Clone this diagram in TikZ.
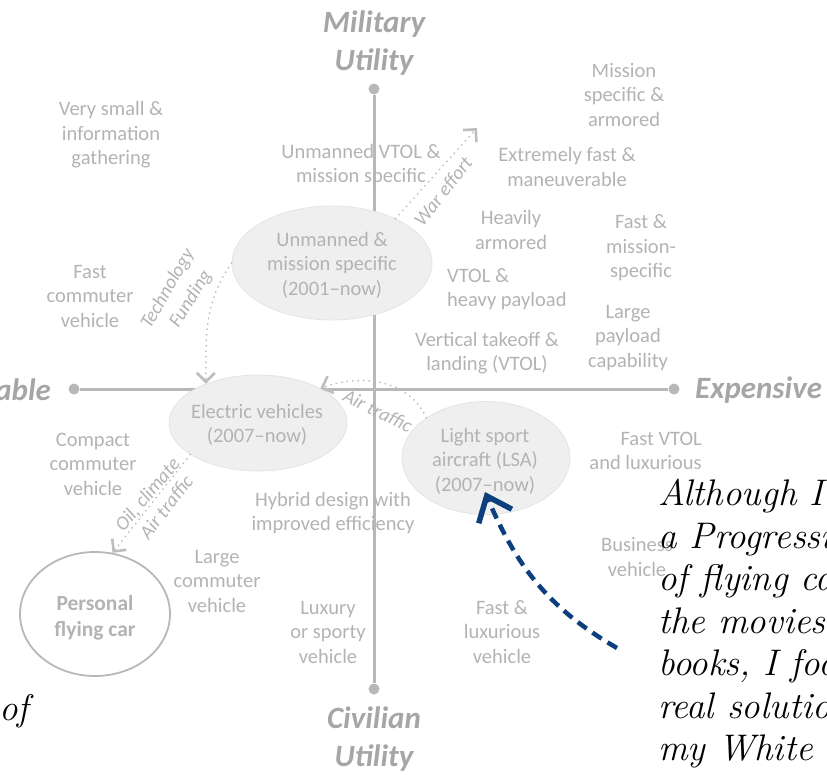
\documentclass[tikz,border=0pt]{standalone}
\usepackage{fontspec}
\newfontfamily\carlito{Carlito}
\usepackage{xcolor}
\usetikzlibrary{arrows.meta,shapes.geometric}
\definecolor{txtgray}{HTML}{B3B3B3}
\definecolor{headgray}{HTML}{A6A6A6}
\definecolor{axgray}{HTML}{B8B8B8}
\definecolor{dotgray}{HTML}{BDBDBD}
\definecolor{ellfill}{HTML}{EFEFEF}
\definecolor{elldraw}{HTML}{E4E4E4}
\definecolor{noteblue}{HTML}{0D3F7E}

\begin{document}
\begin{tikzpicture}[x=1pt,y=1pt,
  lbl/.style={font=\carlito\fontsize{20.5}{24.5}\selectfont, text=txtgray, align=center, inner sep=0pt},
  head/.style={font=\carlito\bfseries\itshape\fontsize{31}{38}\selectfont, text=headgray, align=center, inner sep=0pt},
  tag/.style={font=\carlito\itshape\fontsize{19.5}{21}\selectfont, text=txtgray, inner sep=0pt},
  ell/.style={ellipse, fill=ellfill, draw=elldraw, line width=0.8pt, inner sep=0pt},
  dotend/.style={circle, fill=axgray, minimum size=11pt, inner sep=0pt},
  axis/.style={draw=axgray, line width=3pt},
  flow/.style={draw=dotgray, line width=2pt, line cap=round, dash pattern=on 0pt off 5.5pt,
    -{Straight Barb[length=9pt,width=18pt,line width=2.6pt]}},
  hand/.style={font=\itshape\fontsize{37}{42.5}\selectfont, align=left, inner sep=0pt},
  noteline/.style={draw=noteblue, line width=4.5pt, dash pattern=on 11pt off 7pt,
    -{Straight Barb[length=22pt,width=36pt,line width=5.5pt]}}]
\useasboundingbox (0,0) rectangle (827,-774);
\clip (0,0) rectangle (827,-774);

\node[dotend] (mdot) at (374,-89) {};
\node[dotend] (cdot) at (374,-689) {};
\node[dotend] (adot) at (74,-389) {};
\node[dotend] (edot) at (674,-389) {};
\draw[axis] (mdot) -- (cdot);
\draw[axis] (adot) -- (edot);

\node[head] (mil) at (374,-43) {Military\\Utility};
\node[head] (civ) at (374,-739) {Civilian\\Utility};
\node[head, anchor=west] (expn) at (695,-390) {Expensive};
\node[head, anchor=east] (affd) at (51,-390) {Affordable};

\node[ell, minimum width=200pt, minimum height=114pt] (ums) at (332,-263) {};
\node[ell, minimum width=178pt, minimum height=96pt] (ev) at (258,-423) {};
\node[ell, minimum width=168pt, minimum height=113pt] (lsa) at (486,-458) {};
\node[ellipse, draw=axgray, line width=1.8pt, fill=white, minimum width=150pt, minimum height=124pt] (pfc) at (95,-614) {};

\node[lbl] (umst) at (332,-265) {Unmanned \&\\mission specific\\(2001\textendash now)};
\node[lbl] (evt) at (257,-425) {Electric vehicles\\(2007\textendash now)};
\node[lbl] (lsat) at (485,-461) {Light sport\\aircraft (LSA)\\(2007\textendash now)};
\node[lbl, font=\carlito\bfseries\fontsize{21.5}{26}\selectfont] (pfct) at (95,-618) {Personal\\flying car};

\node[lbl] (vsmall) at (111,-135) {Very small \&\\information\\gathering};
\node[lbl] (uvtol) at (361,-165) {Unmanned VTOL \&\\mission specific};
\node[lbl] (msa) at (624,-95) {Mission\\specific \&\\armored};
\node[lbl] (xfast) at (567,-167) {Extremely fast \&\\maneuverable};
\node[lbl] (heavy) at (511,-230) {Heavily\\armored};
\node[lbl] (fastms) at (641,-248) {Fast \&\\mission-\\specific};
\node[lbl, anchor=west, align=left] (vtolhp) at (447,-289) {VTOL \&\\heavy payload};
\node[lbl] (fastcom) at (90,-296) {Fast\\commuter\\vehicle};
\node[lbl] (lpay) at (628,-338) {Large\\payload\\capability};
\node[lbl] (vtol) at (487,-353) {Vertical takeoff \&\\landing (VTOL)};
\node[lbl] (compact) at (93,-464) {Compact\\commuter\\vehicle};
\node[lbl, anchor=east, align=right] (fvtol) at (702,-451) {Fast VTOL\\and luxurious};
\node[lbl] (hybrid) at (333,-513) {Hybrid design with\\improved efficiency};
\node[lbl] (business) at (637,-557) {Business\\vehicle};
\node[lbl] (largecom) at (217,-581) {Large\\commuter\\vehicle};
\node[lbl] (luxury) at (328,-632) {Luxury\\or sporty\\vehicle};
\node[lbl] (fastlux) at (502,-632) {Fast \&\\luxurious\\vehicle};

\coordinate (wartip) at (477,-128);
\draw[flow] (ums.west) to[out=235,in=90] (ev.143);
\draw[flow] (ums.35) -- (wartip);
\draw[flow] (lsa.146) to[out=115,in=20] (ev.29);
\draw[flow] (ev.205) -- (pfc.74);

\node[tag, rotate=60] (techt) at (168,-289) {Technology};
\node[tag, rotate=58] (fundt) at (191,-299) {Funding};
\node[tag, rotate=52] (wart) at (443,-191) {War effort};
\node[tag, rotate=-26] (airt) at (378,-411) {Air traffic};
\node[tag, rotate=50] (oilt) at (148,-495) {Oil, climate};
\node[tag, rotate=52] (air2t) at (166,-507) {Air traffic};

\coordinate (notefrom) at (617,-648);
\coordinate (noteto) at (485,-492);
\draw[noteline] (notefrom) to[out=150,in=-67] (noteto);

\node[hand, anchor=north west] (note) at (658,-479) {Although I have\\a Progression\\of flying cars in\\the movies and\\books, I focus on\\real solutions in\\my White slides};
\node[hand, anchor=base east] (ofword) at (29,-720) {of};
\end{tikzpicture}
\end{document}
